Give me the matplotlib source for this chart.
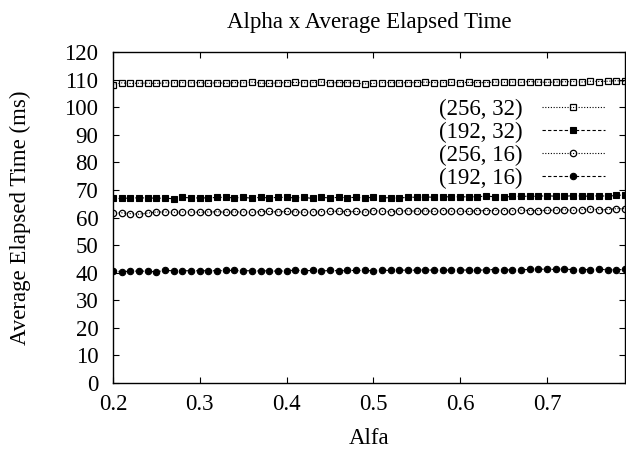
import matplotlib
matplotlib.use("Agg")
import matplotlib.pyplot as plt
import numpy as np

alfa = [round(0.20 + 0.01 * i, 2) for i in range(60)]

s256_32 = [108.2, 108.8, 108.6, 108.7, 108.7, 108.6, 108.8, 108.8, 108.9, 108.8,
           108.9, 108.6, 108.9, 108.6, 108.9, 108.8, 109.1, 108.7, 108.6, 108.8,
           108.9, 109.0, 108.8, 108.9, 109.1, 108.8, 108.9, 108.9, 108.7, 108.4,
           108.6, 108.9, 108.9, 108.8, 108.9, 108.9, 109.1, 108.9, 108.9, 109.0,
           108.9, 109.0, 108.9, 108.9, 109.1, 109.0, 109.1, 109.0, 109.3, 109.1,
           109.0, 109.1, 109.2, 109.3, 109.1, 109.4, 109.3, 109.4, 109.6, 109.4]

s192_32 = [66.9, 66.9, 67.1, 67.1, 67.1, 67.0, 67.0, 66.8, 67.3, 67.1,
           67.1, 67.1, 67.3, 67.3, 67.1, 67.3, 67.0, 67.3, 67.1, 67.3,
           67.3, 67.1, 67.3, 66.9, 67.3, 67.1, 67.3, 67.2, 67.3, 67.1,
           67.3, 67.1, 67.2, 67.0, 67.4, 67.3, 67.5, 67.3, 67.5, 67.5,
           67.5, 67.5, 67.5, 67.8, 67.5, 67.3, 67.7, 67.7, 67.7, 67.7,
           67.9, 67.7, 67.7, 67.9, 67.8, 67.7, 67.9, 67.7, 68.0, 68.2]

s256_16 = [61.6, 61.7, 61.4, 61.2, 61.6, 62.0, 62.0, 61.9, 62.0, 62.0,
           61.9, 62.0, 62.1, 61.9, 62.0, 62.0, 61.9, 62.1, 62.2, 62.0,
           62.2, 62.0, 61.9, 62.0, 62.1, 62.2, 62.3, 62.1, 62.2, 61.9,
           62.5, 62.3, 62.0, 62.4, 62.4, 62.3, 62.4, 62.2, 62.5, 62.3,
           62.3, 62.2, 62.5, 62.5, 62.5, 62.5, 62.4, 62.7, 62.5, 62.5,
           62.6, 62.7, 62.8, 62.6, 62.8, 63.1, 62.8, 62.9, 63.2, 63.2]

s192_16 = [40.6, 40.4, 40.5, 40.6, 40.5, 40.3, 40.8, 40.7, 40.7, 40.7,
           40.7, 40.7, 40.7, 40.8, 40.8, 40.7, 40.7, 40.6, 40.7, 40.5,
           40.7, 40.9, 40.7, 40.8, 40.6, 40.8, 40.7, 40.8, 40.8, 40.8,
           40.7, 40.9, 40.8, 40.9, 40.9, 40.9, 41.0, 40.9, 40.8, 41.0,
           41.0, 40.9, 40.8, 41.1, 41.1, 41.0, 41.0, 41.0, 41.2, 41.3,
           41.2, 41.2, 41.3, 41.1, 41.1, 41.1, 41.2, 41.1, 41.0, 41.2]

labels = ["(256, 32)", "(192, 32)", "(256, 16)", "(192, 16)"]
xticks = [0.2, 0.3, 0.4, 0.5, 0.6, 0.7]
yticks = list(range(0, 121, 10))

plt.rcParams['font.family'] = ['Liberation Serif', 'DejaVu Serif']
FS = 16.5

fig = plt.figure(figsize=(6.26, 4.54), dpi=100)
ax = fig.add_axes([113/626, 1-383/454, 512/626, 331/454])

ax.plot(alfa, s256_32, color='black', lw=0.8, ls=(0, (1, 1.5)), marker='s',
        ms=4.6, mfc='none', mec='black', mew=0.9, label=labels[0])
ax.plot(alfa, s192_32, color='black', lw=0.8, ls=(0, (3, 2)), marker='s',
        ms=4.6, mfc='black', mec='black', mew=0.8, label=labels[1])
ax.plot(alfa, s256_16, color='black', lw=0.8, ls=(0, (1, 1.5)), marker='o',
        ms=4.6, mfc='none', mec='black', mew=0.9, label=labels[2])
ax.plot(alfa, s192_16, color='black', lw=0.8, ls=(0, (3, 2)), marker='o',
        ms=4.6, mfc='black', mec='black', mew=0.8, label=labels[3])

ax.set_xlim(0.2, 0.79)
ax.set_ylim(0, 120)
ax.set_xticks(xticks)
ax.set_xticklabels([f"{t:.1f}" for t in xticks])
ax.set_yticks(yticks)
ax.tick_params(direction='in', length=4.5, width=0.8, top=True, right=True,
               labelsize=FS)
ax.tick_params(axis='x', pad=8)
ax.tick_params(axis='y', pad=10.5)
for sp in ax.spines.values():
    sp.set_linewidth(1.0)

ax.set_title("Alpha x Average Elapsed Time", fontsize=FS, pad=17)
ax.set_xlabel("Alfa", fontsize=FS, labelpad=9)
ax.set_ylabel("Average Elapsed Time (ms)", fontsize=FS, labelpad=24)

leg = ax.legend(loc='upper right', bbox_to_anchor=(605/626, 1-99/454),
                bbox_transform=fig.transFigure, frameon=False, markerfirst=False,
                numpoints=1, handlelength=2.75, handletextpad=0.85,
                labelspacing=0.08, fontsize=FS, borderpad=0, borderaxespad=0)

fig.savefig("out.png", dpi=100)
